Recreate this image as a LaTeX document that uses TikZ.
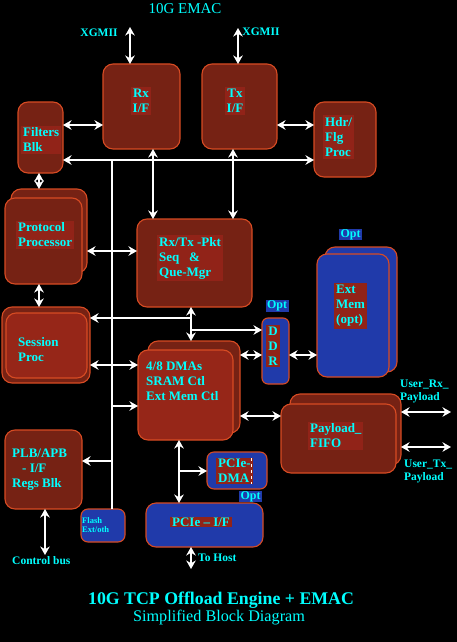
\documentclass[tikz,border=0pt]{standalone}
\usepackage{fontspec}
\setmainfont{Liberation Serif}
\usetikzlibrary{arrows.meta,fit}
\definecolor{hatchred}{RGB}{118,34,20}
\definecolor{solidred}{RGB}{150,38,24}
\definecolor{labred}{RGB}{145,35,24}
\definecolor{hatchblue}{RGB}{32,58,170}
\definecolor{edgecol}{RGB}{215,75,35}
\definecolor{cyantxt}{RGB}{0,255,255}
\begin{document}
\begin{tikzpicture}[x=1pt,y=-1pt,
  redbox/.style={draw=edgecol,line width=1.1pt,rounded corners=10pt,fill=hatchred,inner sep=0pt,outer sep=0pt},
  solidbox/.style={redbox,fill=solidred},
  bluebox/.style={redbox,fill=hatchblue},
  lbl/.style={text=cyantxt,font=\bfseries\fontsize{13}{15}\selectfont,align=left,inner xsep=2pt,inner ysep=2pt},
  flbl/.style={lbl,fill=labred},
  optlbl/.style={text=cyantxt,fill=hatchblue,font=\bfseries\fontsize{12}{14}\selectfont,inner xsep=1.5pt,inner ysep=0.5pt},
  outl/.style={text=cyantxt,font=\bfseries\fontsize{11.5}{13}\selectfont,align=left,inner sep=0pt},
  link/.style={white,line width=2.7pt},
  dbl/.style={link,{Stealth[length=8.5pt,width=9.5pt]}-{Stealth[length=8.5pt,width=9.5pt]}},
  sgl/.style={link,-{Stealth[length=8.5pt,width=9.5pt]}}]
\fill[black] (0,0) rectangle (457,642);
\useasboundingbox (0,0) rectangle (457,642);

% boxes
\node[redbox,fit={(103,64) (180,149)}] (rx) {};
\node[redbox,fit={(202,64) (277,149)}] (tx) {};
\node[redbox,fit={(18,102) (63,173)}] (filt) {};
\node[redbox,fit={(314,102) (376,177)}] (hdr) {};
\node[redbox,fit={(11,189) (87,273)}] (protoB) {};
\node[redbox,fit={(5,198) (82,284)}] (proto) {};
\node[redbox,fit={(137,219) (252,307)}] (pkt) {};
\node[redbox,fit={(2,307) (90,383)}] (sessB) {};
\node[solidbox,fit={(6,313) (87,378)}] (sess) {};
\node[redbox,fit={(148,341) (240,433)}] (dmaB) {};
\node[solidbox,fit={(138,350) (233,440)}] (dma) {};
\node[bluebox,rounded corners=6pt,fit={(262,318) (289,384)}] (ddr) {};
\node[bluebox,fit={(325,247) (397,372)}] (extB) {};
\node[bluebox,fit={(317,254) (389,377)}] (ext) {};
\node[redbox,fit={(290,394) (401,465)}] (payB) {};
\node[redbox,fit={(281,404) (396,473)}] (pay) {};
\node[redbox,fit={(5,430) (82,509)}] (plb) {};
\node[bluebox,rounded corners=7pt,fit={(81,509) (125,542)}] (flash) {};
\node[bluebox,rounded corners=7pt,fit={(207,452) (267,489)}] (pdma) {};
\node[bluebox,fit={(146,503) (263,547)}] (pcie) {};

% box texts
\node[flbl,align=center,anchor=center] (trx) at (141,101) {Rx\\I/F};
\node[flbl,align=center,anchor=center] (ttx) at (235,101) {Tx\\I/F};
\node[flbl,anchor=west] (tfilt) at (21,140) {Filters\\Blk};
\node[flbl,anchor=west] (thdr) at (323,137) {Hdr/\\Flg\\Proc};
\node[flbl,anchor=west] (tproto) at (16,235) {Protocol\\Processor};
\node[flbl,anchor=west] (tpkt) at (157,258) {Rx/Tx -Pkt\\Seq\ \ \ \&\\Que-Mgr};
\node[lbl,anchor=west] (tsess) at (16,350) {Session\\Proc};
\node[lbl,anchor=west] (tdma) at (144,381) {4/8 DMAs\\SRAM Ctl\\Ext Mem Ctl};
\node[flbl,align=center,anchor=center] (tddr) at (273,346) {D\\D\\R};
\node[optlbl] (optddr) at (277,306) {Opt};
\node[flbl,anchor=west] (text) at (334,306) {Ext\\Mem\\(opt)};
\node[optlbl] (optext) at (350.5,234.5) {Opt};
\node[flbl,anchor=west] (tpay) at (308,436) {Payload\_\\FIFO};
\node[lbl,anchor=west] (tplb) at (10,470) {PLB/APB\\\hspace*{10pt}- I/F\\Regs Blk};
\node[text=cyantxt,font=\bfseries\fontsize{8.5}{9.5}\selectfont,align=left,inner sep=0pt,anchor=west] (tflash) at (82,525) {Flash\\Ext/oth};
\node[flbl,anchor=west,inner ysep=1pt] (tpdma) at (216,471) {PCIe-\\DMA};
\draw[white,dashed,line width=0.8pt] (251,458) -- (251,484);
\node[optlbl] (optpcie) at (250.5,496.5) {Opt};
\node[flbl,anchor=center,inner ysep=1pt] (tpcie) at (201,522) {PCIe -- I/F};

% outside texts
\node[text=cyantxt,font=\fontsize{15}{17}\selectfont,inner sep=0pt] (title) at (185,9) {10G EMAC};
\node[outl] (xg1) at (99,33) {XGMII};
\node[outl] (xg2) at (261,32) {XGMII};
\node[outl,anchor=west] (urx) at (400,391) {User\_Rx\_\\Payload};
\node[outl,anchor=west] (utx) at (404,471) {User\_Tx\_\\Payload};
\node[outl,anchor=west] (cbus) at (12,561) {Control bus};
\node[outl,anchor=west] (host) at (198,558) {To Host};
\node[text=cyantxt,font=\bfseries\fontsize{17.8}{19}\selectfont,inner sep=0pt] (t1) at (221,600) {10G TCP Offload Engine + EMAC};
\node[text=cyantxt,font=\fontsize{16.2}{18}\selectfont,inner sep=0pt] (t2) at (219,618) {Simplified Block Diagram};

% free ends
\coordinate (xgA) at (130,27);
\coordinate (xgB) at (238,28);
\coordinate (busY) at (0,160);
\coordinate (busX) at (112,0);
\coordinate (midX) at (191,0);
\coordinate (sesY) at (0,318);
\coordinate (ddrY) at (0,330);
\coordinate (usrRx) at (451,412);
\coordinate (usrTx) at (451,447);
\coordinate (cb) at (45,555);
\coordinate (th) at (191,569);
\coordinate (dmaX) at (179,0);
\coordinate (pdY) at (0,471);

% connectors
\draw[dbl] (xgA) -- (rx.north -| xgA);
\draw[dbl] (xgB) -- (tx.north -| xgB);
\draw[dbl] (filt.east |- 0,125) -- (rx.west |- 0,125);
\draw[dbl] (tx.east |- 0,125) -- (hdr.west |- 0,125);
\draw[link,line width=2pt] (busX |- busY) -- (busX |- flash.north);
\draw[dbl] (filt.east |- busY) -- (hdr.west |- busY);
\draw[dbl] (rx.south -| 153,0) -- (pkt.north -| 153,0);
\draw[dbl] (tx.south -| 233,0) -- (pkt.north -| 233,0);
\draw[dbl] (filt.south -| 39,0) -- (protoB.north -| 39,0);
\draw[dbl] (protoB.east |- 0,251) -- (pkt.west |- 0,251);
\draw[dbl] (proto.south -| 39,0) -- (sessB.north -| 39,0);
\draw[dbl] (pkt.south -| midX) -- (dmaB.north -| midX);
\draw[sgl] (midX |- sesY) -- (sessB.east |- sesY);
\draw[sgl] (midX |- ddrY) -- (ddr.west |- ddrY);
\draw[dbl] (sessB.east |- 0,365) -- (dma.west |- 0,365);
\draw[sgl] (busX |- 0,406) -- (dma.west |- 0,406);
\draw[sgl] (busX |- 0,461) -- (plb.east |- 0,461);
\draw[dbl] (dmaB.east |- 0,355) -- (ddr.west |- 0,355);
\draw[dbl] (ddr.east |- 0,355) -- (ext.west |- 0,355);
\draw[dbl] (dmaB.east |- 0,416) -- (pay.west |- 0,416);
\draw[dbl] (payB.east |- usrRx) -- (usrRx);
\draw[dbl] (payB.east |- usrTx) -- (usrTx);
\draw[dbl] (plb.south -| cb) -- (cb);
\draw[dbl] (dma.south -| dmaX) -- (pcie.north -| dmaX);
\draw[sgl] (dmaX |- pdY) -- (pdma.west |- pdY);
\draw[dbl] (pcie.south -| th) -- (th);
\end{tikzpicture}
\end{document}
